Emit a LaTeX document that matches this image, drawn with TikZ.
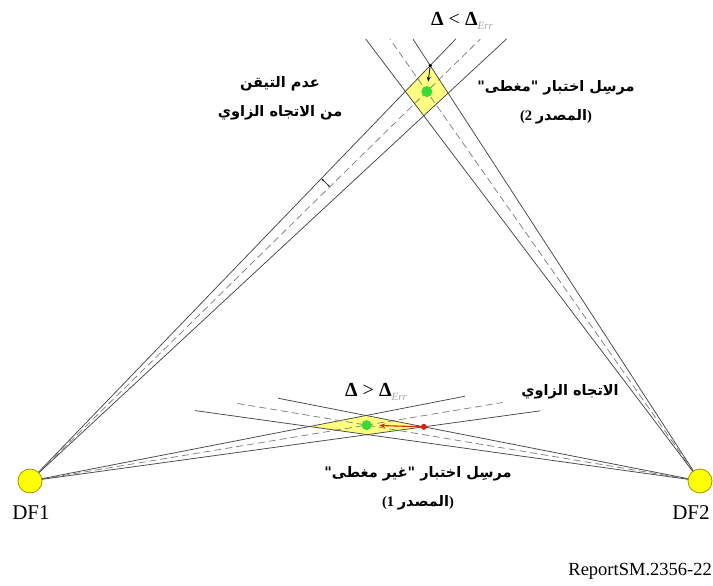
\documentclass[tikz,border=0pt]{standalone}
\usepackage{fontspec}
\setmainfont{Liberation Serif}
\newfontfamily\arabicfont[Script=Arabic]{DejaVu Sans}
\TeXXeTstate=1
\usetikzlibrary{calc,arrows.meta}
\definecolor{dfyellow}{HTML}{FFFF00}
\definecolor{dfedge}{HTML}{9A9A00}
\definecolor{zone}{HTML}{FFFF80}
\definecolor{gdot}{HTML}{33DD33}
\definecolor{rdot}{HTML}{E02010}
\newcommand{\errsub}{\raisebox{-0.45ex}{\fontsize{11}{11}\selectfont\itshape\color{black!35}Err}}
\begin{document}
\begin{tikzpicture}[x=1pt,y=-1pt,
  bl/.style={draw=black!72,line width=0.75pt},
  bd/.style={draw=black!50,line width=0.75pt,dash pattern=on 7pt off 4pt},
  ar/.style={font=\arabicfont\bfseries\fontsize{14.5}{29}\selectfont,align=center},
  dfl/.style={font=\fontsize{21}{24}\selectfont,inner sep=0pt},
  dfc/.style={circle,draw=dfedge,fill=dfyellow,line width=0.8pt,minimum size=24pt,inner sep=0pt},
  dl/.style={font=\fontsize{20}{22}\selectfont,inner sep=0pt}]
\useasboundingbox (0,0) rectangle (713,586);
\fill[white] (0,0) rectangle (713,586);
\coordinate (df1) at (30,481);
\coordinate (df2) at (700,481);
% top beams
\coordinate (t1a) at ($(df1)+(46.07:614pt)$);
\coordinate (t1c) at ($(df1)+(44.46:631pt)$);
\coordinate (t1b) at ($(df1)+(42.85:650pt)$);
\coordinate (t2a) at ($(df2)+(123.0:527pt)$);
\coordinate (t2c) at ($(df2)+(125.05:540pt)$);
\coordinate (t2b) at ($(df2)+(127.1:554pt)$);
% lower beams
\coordinate (l1a) at ($(df1)+(11.03:443pt)$);
\coordinate (l1c) at ($(df1)+(9.43:479pt)$);
\coordinate (l1b) at ($(df1)+(7.83:515pt)$);
\coordinate (l2a) at ($(df2)+(168.9:430pt)$);
\coordinate (l2c) at ($(df2)+(170.48:470pt)$);
\coordinate (l2b) at ($(df2)+(172.06:510pt)$);
% intersections
\coordinate (A1) at (intersection of df1--t1a and df2--t2a);
\coordinate (A2) at (intersection of df1--t1a and df2--t2b);
\coordinate (A3) at (intersection of df1--t1b and df2--t2b);
\coordinate (A4) at (intersection of df1--t1b and df2--t2a);
\coordinate (G1) at (intersection of df1--t1c and df2--t2c);
\coordinate (B1) at (intersection of df1--l1a and df2--l2a);
\coordinate (B2) at (intersection of df1--l1a and df2--l2b);
\coordinate (B3) at (intersection of df1--l1b and df2--l2b);
\coordinate (B4) at (intersection of df1--l1b and df2--l2a);
\coordinate (G2) at (intersection of df1--l1c and df2--l2c);
% zones
\fill[zone] (A1) -- (A2) -- (A3) -- (A4) -- cycle;
\fill[zone] (B1) -- (B2) -- (B3) -- (B4) -- cycle;
% beams
\draw[bl] (df1) -- (t1a); \draw[bd] (df1) -- (t1c); \draw[bl] (df1) -- (t1b);
\draw[bl] (df2) -- (t2a); \draw[bd] (df2) -- (t2c); \draw[bl] (df2) -- (t2b);
\draw[bl] (df1) -- (l1a); \draw[bd] (df1) -- (l1c); \draw[bl] (df1) -- (l1b);
\draw[bl] (df2) -- (l2a); \draw[bd] (df2) -- (l2c); \draw[bl] (df2) -- (l2b);
% angular mark
\draw[black,line width=0.6pt,{Stealth[length=2.5pt]}-{Stealth[length=2.5pt]}] ($(df1)+(44.46:420pt)$) arc[start angle=44.46,end angle=46.07,radius=420pt];
% centres and deltas
\node[circle,fill=gdot,minimum size=11pt,inner sep=0pt] (g1) at (G1) {};
\node[circle,fill=gdot,minimum size=10pt,inner sep=0pt] (g2) at (G2) {};
\node[circle,fill=black,minimum size=3.5pt,inner sep=0pt] (a1) at (A1) {};
\draw[black,line width=0.8pt,-{Stealth[length=5pt]}] (a1) -- ($(A1)!0.62!(G1)$);
\node[circle,fill=rdot,minimum size=6pt,inner sep=0pt] (b4) at (B4) {};
\draw[rdot,line width=1.1pt,-{Stealth[length=6pt]}] (b4) -- ($(B4)!0.78!(G2)$);
% stations
\node[dfc] (n1) at (df1) {};
\node[dfc] (n2) at (df2) {};
\node[dfl] (lab1) at (31,513) {DF1};
\node[dfl] (lab2) at (691,513) {DF2};
\node[font=\fontsize{18.5}{20}\selectfont,anchor=east,inner sep=0pt] (rep) at (712,571) {ReportSM.2356-22};
% labels
\node[dl] (d1) at (462,21) {\textbf{Δ} < \textbf{Δ}\errsub};
\node[dl] (d2) at (376,392) {\textbf{Δ} > \textbf{Δ}\errsub};
\node[ar] (u1) at (280,98) {\beginR عدم التيقن\endR\\\beginR من الاتجاه الزاوي\endR};
\node[ar] (s2) at (556,102) {\beginR مرسِل اختبار "مغطى"\endR\\{\rmfamily\bfseries(2 }المصدر{\rmfamily\bfseries)}};
\node[ar] (ad) at (570,392) {\beginR الاتجاه الزاوي\endR};
\node[ar] (s1) at (418,488) {\beginR مرسِل اختبار "غير مغطى"\endR\\{\rmfamily\bfseries(1 }المصدر{\rmfamily\bfseries)}};
\end{tikzpicture}
\end{document}
